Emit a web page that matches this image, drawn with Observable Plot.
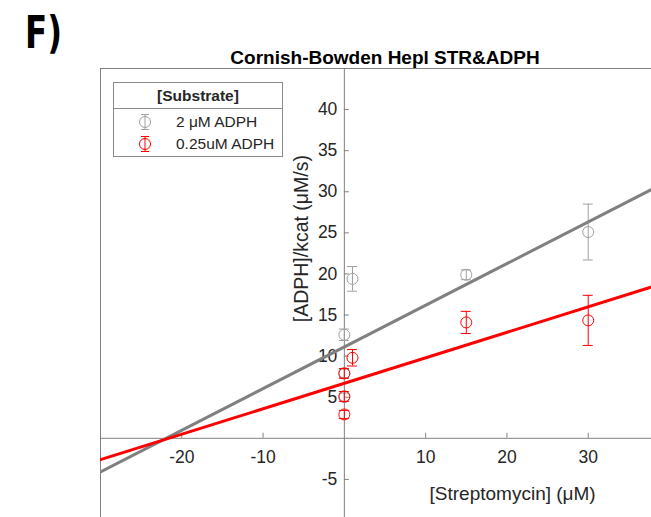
<!DOCTYPE html>
<html>
<head>
<meta charset="utf-8">
<script src="https://cdn.jsdelivr.net/npm/d3@7"></script>
<script src="https://cdn.jsdelivr.net/npm/@observablehq/plot@0.6"></script>
<style>
  html, body { margin: 0; padding: 0; background: #fff; overflow: hidden; width: 651px; height: 517px; }
  #wrap { position: relative; width: 669px; height: 525px; font-family: "Liberation Sans", Arial, sans-serif; }
  #panel { position: absolute; left: 25px; top: 7px; font-family: "DejaVu Sans Condensed", "DejaVu Sans", sans-serif; font-weight: bold; font-size: 44px; color: #000; transform: scaleX(0.82); transform-origin: left top; }
  #legend { position: absolute; left: 113px; top: 82px; width: 170px; height: 75px; border: 1px solid #8a8a8a; background: #fff; box-sizing: border-box; font-size: 15.5px; color: #262626; }
  #legend .hdr { height: 25px; border-bottom: 1px solid #8a8a8a; text-align: center; font-weight: bold; line-height: 26px; }
  #legend .row { position: relative; height: 22px; line-height: 22px; }
  #legend .row svg { position: absolute; left: 24px; top: 2px; }
  #legend .row span { position: absolute; left: 62px; }
</style>
</head>
<body>
<div id="wrap"></div>
<script>
// ---- data ----
const titleText = "Cornish-Bowden Hepl STR&ADPH";
const xLabel = "[Streptomycin] (μM)";
const yLabel = "[ADPH]/kcat (μM/s)";
const xTicks = [-20, -10, 10, 20, 30];
const yTicks = [-5, 5, 10, 15, 20, 25, 30, 35, 40];

const seriesNames = ["2 μM ADPH", "0.25uM ADPH"];

const grayX   = [0, 0, 0, 1, 15, 30];
const grayY   = [5.0, 7.9, 12.6, 19.4, 19.9, 25.1];
const grayErr = [0.5, 0.5, 0.7, 1.5, 0.6, 3.4];

const redX   = [0, 0, 0, 1, 15, 30];
const redY   = [2.9, 5.1, 7.9, 9.8, 14.1, 14.35];
const redErr = [0.5, 0.6, 0.6, 1.0, 1.35, 3.05];

const fitX     = [-30, 40];
const grayFitY = [-4.1, 31.4];
const redFitY  = [-2.6, 19.1];

// ---- styles ----
const axisColor = "#808080";
const textColor = "#262626";
const grayMarker = "#a0a0a0";
const grayLine = "#808080";
const red = "#ff0000";

const toRows = (xs, ys, es) => xs.map((x, i) => ({x, y: ys[i], lo: ys[i] - es[i], hi: ys[i] + es[i]}));
const grayPts = toRows(grayX, grayY, grayErr);
const redPts = toRows(redX, redY, redErr);
const grayFit = fitX.map((x, i) => ({x, y: grayFitY[i]}));
const redFit = fitX.map((x, i) => ({x, y: redFitY[i]}));

function seriesMarks(pts, color) {
  return [
    Plot.ruleX(pts, {x: "x", y1: "lo", y2: "hi", stroke: color, strokeWidth: 1}),
    Plot.ruleY(pts, {x1: "x", x2: "x", y: "lo", insetLeft: -5, insetRight: -5, stroke: color, strokeWidth: 1}),
    Plot.ruleY(pts, {x1: "x", x2: "x", y: "hi", insetLeft: -5, insetRight: -5, stroke: color, strokeWidth: 1}),
    Plot.dot(pts, {x: "x", y: "y", r: 5.5, stroke: color, strokeWidth: 1, fill: "none"})
  ];
}

const plot = Plot.plot({
  width: 669,
  height: 525,
  marginLeft: 100,
  marginRight: 0,
  marginTop: 68,
  marginBottom: 5,
  x: {domain: [-30, 40], axis: null},
  y: {domain: [-10, 45], axis: null},
  style: {fontFamily: "'Liberation Sans', Arial, sans-serif", background: "transparent", overflow: "visible"},
  marks: [
    Plot.frame({stroke: axisColor, strokeWidth: 1}),
    Plot.ruleY([0], {stroke: axisColor, strokeWidth: 1}),
    Plot.ruleX([0], {stroke: axisColor, strokeWidth: 1}),
    Plot.ruleX(xTicks, {x: d => d, y1: 0, y2: 0, insetTop: -5, stroke: axisColor}),
    Plot.ruleY(yTicks, {y: d => d, x1: 0, x2: 0, insetRight: -5, stroke: axisColor}),
    Plot.text(xTicks, {x: d => d, y: 0, dy: 19, text: d => String(d), fontSize: 17.5, fill: textColor}),
    Plot.text(yTicks, {x: 0, y: d => d, dx: -7, text: d => String(d), textAnchor: "end", fontSize: 17.5, fill: textColor}),
    ...seriesMarks(grayPts, grayMarker),
    ...seriesMarks(redPts, red),
    Plot.line(grayFit, {x: "x", y: "y", stroke: grayLine, strokeWidth: 3, clip: true}),
    Plot.line(redFit, {x: "x", y: "y", stroke: red, strokeWidth: 3, clip: true}),
    Plot.text([titleText], {frameAnchor: "top", lineAnchor: "middle", dy: -11, text: d => d, fontSize: 19, fontWeight: "bold", fill: "#000"}),
    Plot.text([xLabel], {x: 20.7, y: -6.8, text: d => d, fontSize: 19, fill: textColor}),
    Plot.text([yLabel], {x: -5.2, y: 24.3, text: d => d, rotate: -90, fontSize: 19.5, fill: textColor})
  ]
});

const wrap = document.getElementById("wrap");
wrap.appendChild(plot);

const panel = document.createElement("div");
panel.id = "panel";
panel.textContent = "F)";
wrap.appendChild(panel);

function marker(color) {
  return `<svg width="14" height="18" viewBox="0 0 14 18"><line x1="7" y1="1" x2="7" y2="17" stroke="${color}"/><line x1="3" y1="1.5" x2="11" y2="1.5" stroke="${color}"/><line x1="3" y1="16.5" x2="11" y2="16.5" stroke="${color}"/><circle cx="7" cy="9" r="5.5" fill="none" stroke="${color}"/></svg>`;
}
const legend = document.createElement("div");
legend.id = "legend";
legend.innerHTML = `<div class="hdr">[Substrate]</div>` +
  `<div class="row" style="margin-top:2px">${marker(grayMarker)}<span>${seriesNames[0]}</span></div>` +
  `<div class="row">${marker(red)}<span>${seriesNames[1]}</span></div>`;
wrap.appendChild(legend);
</script>
</body>
</html>
